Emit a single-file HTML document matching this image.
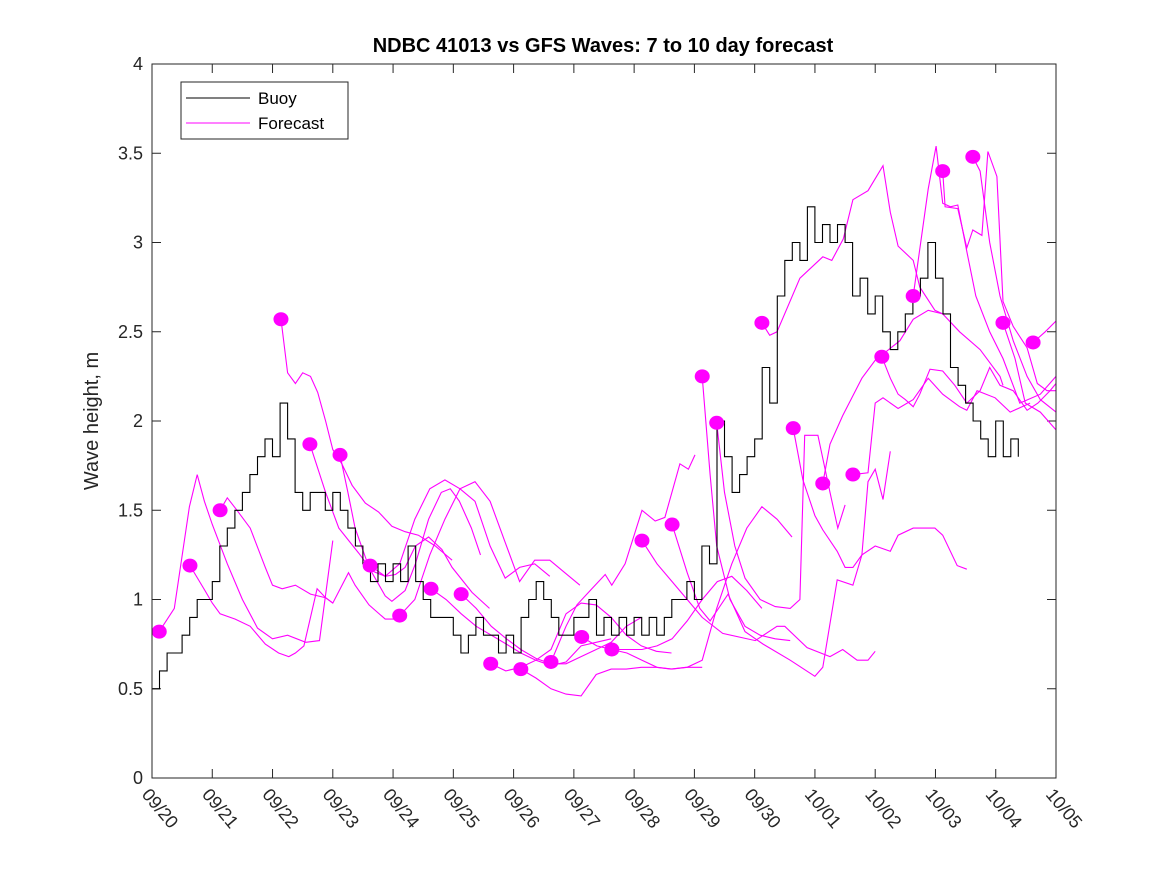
<!DOCTYPE html>
<html><head><meta charset="utf-8"><style>
body{margin:0;background:#fff}
svg{display:block;font-family:"Liberation Sans",sans-serif}
</style></head><body>
<svg id="chart" width="1167" height="875">
<rect x="0" y="0" width="1167" height="875" fill="#fff"/>
<text x="603" y="52" text-anchor="middle" font-size="20" font-weight="bold" fill="#000">NDBC 41013 vs GFS Waves: 7 to 10 day forecast</text>
<text transform="translate(98,421) rotate(-90)" text-anchor="middle" font-size="20" fill="#262626">Wave height, m</text>
<g id="axes"></g>
<g id="series"></g>
<rect x="152" y="64" width="904" height="714" fill="none" stroke="#262626" stroke-width="1"/>
<g>
<rect x="181" y="82" width="167" height="57" fill="#fff" stroke="#262626"/>
<line x1="186" y1="98" x2="250" y2="98" stroke="#000"/>
<text x="258" y="104" font-size="17" fill="#000">Buoy</text>
<line x1="186" y1="123" x2="250" y2="123" stroke="#ff00ff"/>
<text x="258" y="129" font-size="17" fill="#000">Forecast</text>
</g>
</svg>
<script>
const xTickLabels=["09/20","09/21","09/22","09/23","09/24","09/25","09/26","09/27","09/28","09/29","09/30","10/01","10/02","10/03","10/04","10/05"];
const yTicks=[0,0.5,1,1.5,2,2.5,3,3.5,4];
const buoyStep=0.125;
const buoyValues=[0.5,0.6,0.7,0.7,0.8,0.9,1.0,1.0,1.1,1.3,1.4,1.5,1.6,1.7,1.8,1.9,1.8,2.1,1.9,1.6,1.5,1.6,1.6,1.5,1.6,1.5,1.4,1.3,1.2,1.1,1.2,1.1,1.2,1.1,1.3,1.1,1.0,0.9,0.9,0.9,0.8,0.7,0.8,0.9,0.8,0.8,0.7,0.8,0.7,0.9,1.0,1.1,1.0,0.9,0.8,0.8,0.9,0.9,1.0,0.8,0.9,0.8,0.9,0.8,0.9,0.8,0.9,0.8,0.9,1.0,1.0,1.1,1.0,1.3,1.2,2.0,1.8,1.6,1.7,1.8,1.9,2.3,2.1,2.7,2.9,3.0,2.9,3.2,3.0,3.1,3.0,3.1,3.0,2.7,2.8,2.6,2.7,2.5,2.4,2.5,2.6,2.7,2.8,3.0,2.8,2.6,2.3,2.2,2.1,2.0,1.9,1.8,2.0,1.8,1.9,1.8];
const fcT=[
[0.12,0.37,0.62,0.75,0.87,1.0,1.25,1.5,1.75,2.0,2.25,2.55,2.78,3.0],
[0.63,0.88,1.0,1.13,1.38,1.63,1.88,2.1,2.27,2.38,2.52,2.74,2.88,3.0],
[1.13,1.25,1.41,1.63,1.88,2.0,2.16,2.38,2.63,2.88,3.0,3.26,3.37,3.6,3.87,4.11],
[2.14,2.25,2.38,2.5,2.63,2.75,2.88,3.0,3.15,3.32,3.54,3.76,3.98,4.2,4.42,4.7,4.98],
[2.62,2.88,3.1,3.43,3.65,3.87,4.04,4.2,4.37,4.59,4.81,4.98,5.31,5.6],
[3.12,3.25,3.37,3.6,3.87,3.98,4.2,4.37,4.59,4.8,4.95,5.1,5.3,5.45],
[3.62,3.87,4.11,4.36,4.61,4.86,5.11,5.36,5.61,5.86,6.1,6.35,6.6],
[4.11,4.36,4.61,4.86,5.11,5.36,5.61,5.86,6.1,6.35,6.6,6.85,7.1],
[4.63,4.88,5.13,5.38,5.63,5.88,6.12,6.37,6.62,6.87,7.12,7.37,7.62],
[5.13,5.38,5.63,5.88,6.12,6.37,6.62,6.87,7.12,7.37,7.62,7.87,8.12],
[5.62,5.87,6.12,6.37,6.62,6.87,7.12,7.37,7.62,7.87,8.12,8.37,8.62],
[6.12,6.37,6.62,6.87,7.12,7.37,7.62,7.87,8.12,8.37,8.61,8.86,9.13],
[6.62,6.87,7.05,7.27,7.52,7.63,7.85,8.13,8.35,8.51,8.76,8.9,9.01],
[7.13,7.38,7.63,7.88,8.13,8.38,8.63,8.88,9.13,9.38,9.62,9.87,10.12],
[7.63,7.88,8.13,8.38,8.63,8.88,9.13,9.37,9.62,9.87,10.12,10.37,10.62],
[8.13,8.38,8.63,8.88,9.13,9.47,10.01,10.37,10.5,10.87,11.25,11.46,11.7,11.88,12.0],
[8.63,8.88,9.09,9.26,9.56,9.84,10.14,10.59,11.0,11.13,11.37,11.63,11.78,11.88,12.0,12.13,12.25],
[9.13,9.26,9.37,9.59,9.84,10.09,10.34,10.59],
[9.37,9.5,9.67,9.84,10.09,10.34,10.59,10.75,10.83,11.05,11.25,11.38,11.5],
[10.12,10.25,10.37,10.75,11.13,11.28,11.47,11.63,11.88,12.13,12.25,12.38,12.63,12.74,12.99,13.12],
[10.64,10.8,11.0,11.13,11.37,11.5,11.63,11.78,12.0,12.25,12.38,12.63,12.99,13.12,13.36,13.52],
[11.13,11.25,11.46,11.78,12.0,12.41,12.63,12.88,13.12,13.4,13.74,14.07,14.12],
[11.63,11.88,12.0,12.13,12.38,12.63,12.88,13.12,13.4,13.52,13.69,13.99,14.24,14.57],
[12.11,12.25,12.38,12.5,12.63,12.74,12.91,13.12,13.32,13.52,13.74,13.9,14.07,14.29,14.52,14.7,14.9,15.0],
[12.63,12.88,13.01,13.12,13.25,13.37,13.52,13.67,13.9,14.12,14.4,14.74,15.0],
[13.12,13.16,13.37,13.52,13.62,13.77,13.87,14.02,14.12,14.29,14.52,14.69,14.85,15.0],
[13.62,13.74,13.9,14.07,14.29,14.52,14.74,15.0],
[14.12,14.32,14.49,14.74,15.0],
[14.62,14.82,15.0]
];
const fcV=[
[0.82,0.95,1.52,1.70,1.55,1.42,1.20,1.00,0.84,0.78,0.80,0.76,0.77,1.33],
[1.19,1.05,0.98,0.92,0.89,0.85,0.75,0.70,0.68,0.70,0.74,1.06,1.01,0.98],
[1.50,1.57,1.50,1.40,1.18,1.08,1.06,1.08,1.03,1.01,0.98,1.15,1.08,0.97,0.89,0.89],
[2.57,2.27,2.21,2.27,2.25,2.16,2.00,1.84,1.76,1.64,1.54,1.49,1.41,1.38,1.36,1.30,1.22],
[1.87,1.60,1.40,1.26,1.16,1.13,1.14,1.18,1.30,1.35,1.28,1.18,1.04,0.95],
[1.81,1.60,1.40,1.18,1.02,0.99,1.05,1.20,1.45,1.60,1.62,1.55,1.40,1.25],
[1.19,1.13,1.20,1.45,1.62,1.67,1.62,1.55,1.30,1.12,1.18,1.20,1.13],
[0.91,1.00,1.25,1.45,1.62,1.66,1.55,1.32,1.10,1.22,1.22,1.15,1.08],
[1.06,1.00,0.92,0.85,0.80,0.75,0.70,0.66,0.63,0.65,0.74,0.76,0.78],
[1.03,0.95,0.85,0.78,0.72,0.67,0.64,0.64,0.68,0.72,0.76,0.85,0.90],
[0.64,0.60,0.62,0.66,0.72,0.92,0.98,0.97,0.90,0.80,0.74,0.71,0.70],
[0.61,0.56,0.50,0.47,0.46,0.58,0.61,0.61,0.62,0.62,0.61,0.62,0.62],
[0.65,0.85,0.97,1.05,1.14,1.08,1.20,1.50,1.44,1.46,1.76,1.73,1.81],
[0.79,0.74,0.72,0.72,0.72,0.74,0.78,0.88,1.00,1.10,1.13,1.05,0.95],
[0.72,0.70,0.66,0.62,0.61,0.62,0.66,0.95,1.20,1.40,1.52,1.45,1.35],
[1.33,1.20,1.10,1.00,0.90,0.81,0.77,0.85,0.85,0.73,0.68,0.72,0.66,0.66,0.71],
[1.42,1.15,0.95,0.88,1.03,0.82,0.75,0.66,0.57,0.62,1.11,1.08,1.25,1.66,1.73,1.56,1.83],
[2.25,1.70,1.30,1.00,0.85,0.80,0.78,0.77],
[1.99,1.60,1.30,1.12,1.00,0.96,0.95,1.00,1.92,1.92,1.60,1.40,1.53],
[2.55,2.48,2.50,2.80,2.92,2.90,3.02,3.24,3.29,3.43,3.17,2.98,2.90,2.75,2.62,2.60],
[1.96,1.67,1.47,1.39,1.27,1.18,1.18,1.25,1.30,1.27,1.36,1.40,1.40,1.36,1.19,1.17],
[1.65,1.87,2.03,2.24,2.34,2.45,2.57,2.62,2.60,2.50,2.40,2.25,2.20],
[1.70,1.71,2.10,2.13,2.07,2.12,2.24,2.15,2.08,2.06,2.17,2.13,2.05,2.10],
[2.36,2.24,2.15,2.12,2.08,2.15,2.29,2.28,2.20,2.10,2.17,2.30,2.20,2.17,2.06,2.10,2.17,2.21],
[2.70,3.30,3.54,3.22,3.20,3.21,2.95,2.70,2.50,2.35,2.10,2.15,2.25],
[3.40,3.20,3.19,2.97,3.07,3.04,3.51,3.37,2.67,2.53,2.41,2.21,2.17,2.17],
[3.48,3.40,3.00,2.70,2.45,2.25,2.12,2.05],
[2.55,2.35,2.10,2.05,1.95],
[2.44,2.50,2.56]
];
const NS="http://www.w3.org/2000/svg";
const X0=152,X1=1056,Y0=778,Y1=64,DAYS=15,YMAX=4;
function xs(d){return X0+(X1-X0)*d/DAYS;}
function ys(v){return Y0-(Y0-Y1)*v/YMAX;}
function mk(tag,attrs,parent){const e=document.createElementNS(NS,tag);for(const k in attrs)e.setAttribute(k,attrs[k]);parent.appendChild(e);return e;}
const axes=document.getElementById('axes'),series=document.getElementById('series');
yTicks.forEach((v,i)=>{
  const y=ys(v);
  const t1=mk('line',{x1:X0,y1:y,x2:X0+9,y2:y,stroke:'#262626'},axes);
  
  
  const t2=mk('line',{x1:X1-9,y1:y,x2:X1,y2:y,stroke:'#262626'},axes);
  
  
  const tx=mk('text',{x:X0-9,y:y+6,'text-anchor':'end','font-size':'18',fill:'#262626'},axes);
  tx.textContent=String(v);
  
  
});
xTickLabels.forEach((lab,i)=>{
  const x=xs(i);
  const t1=mk('line',{x1:x,y1:Y0,x2:x,y2:Y0-9,stroke:'#262626'},axes);
  
  
  const t2=mk('line',{x1:x,y1:Y1,x2:x,y2:Y1+9,stroke:'#262626'},axes);
  
  
  const tx=mk('text',{transform:`translate(${x-11},${Y0+17}) rotate(50)`,'font-size':'18',fill:'#262626'},axes);
  tx.textContent=lab;
  
  
});
fcT.forEach((ts,i)=>{
  const pts=ts.map((t,j)=>xs(t).toFixed(1)+','+ys(fcV[i][j]).toFixed(1)).join(' ');
  const pl=mk('polyline',{points:pts,fill:'none',stroke:'#ff00ff','stroke-width':'1.1'},series);
  
  
});
let bp=[];
buoyValues.forEach((v,i)=>{
  const x=xs(i*buoyStep),y=ys(v);
  if(i>0)bp.push(x.toFixed(1)+','+ys(buoyValues[i-1]).toFixed(1));
  bp.push(x.toFixed(1)+','+y.toFixed(1));
});
const bl=mk('polyline',{points:bp.join(' '),fill:'none',stroke:'#000','stroke-width':'1.1'},series);


fcT.forEach((ts,i)=>{
  const c=mk('ellipse',{cx:xs(ts[0]),cy:ys(fcV[i][0]),rx:7.5,ry:7,fill:'#ff00ff'},series);
  
  
});
</script>
</body></html>
